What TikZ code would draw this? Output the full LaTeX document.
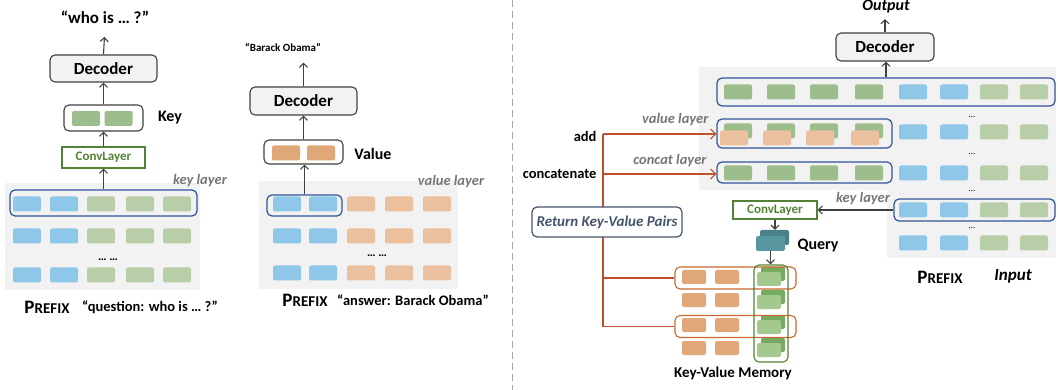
\documentclass[tikz,border=0pt]{standalone}
\usepackage{fontspec}
\setmainfont{Carlito}
\usetikzlibrary{arrows.meta}

\definecolor{cblue}{RGB}{142,199,232}
\definecolor{lgreen}{RGB}{183,206,168}
\definecolor{dgreen}{RGB}{157,190,140}
\definecolor{lorange}{RGB}{235,192,158}
\definecolor{morange}{RGB}{224,168,120}
\definecolor{bggray}{RGB}{242,242,242}
\definecolor{boxgray}{RGB}{242,242,242}
\definecolor{darkline}{RGB}{64,64,64}
\definecolor{rowblue}{RGB}{47,85,151}
\definecolor{convgreen}{RGB}{84,130,53}
\definecolor{layergray}{RGB}{118,118,118}
\definecolor{redline}{RGB}{192,80,45}
\definecolor{memorange}{RGB}{200,105,45}
\definecolor{slate}{RGB}{68,84,106}
\definecolor{qdark}{RGB}{74,128,136}
\definecolor{qlight}{RGB}{88,150,160}
\definecolor{mgreenb}{RGB}{118,170,96}
\definecolor{mgreenf}{RGB}{165,200,145}

\newcommand{\prefixword}{{\fontsize{19}{22}\selectfont P}{\fontsize{15}{18}\selectfont REFIX}}

\begin{document}
\begin{tikzpicture}[
    x=1pt, y=-1pt,
    cell/.style={rounded corners=2pt, minimum width=28pt, minimum height=15pt, inner sep=0pt},
    memcell/.style={rounded corners=2pt, minimum width=24pt, minimum height=14pt, inner sep=0pt},
    hl/.style={draw=rowblue, line width=1.2pt, rounded corners=5pt, inner sep=0pt},
    decoder/.style={draw=darkline, fill=boxgray, line width=1.1pt, rounded corners=5pt, inner sep=0pt, font=\bfseries\fontsize{17}{20}\selectfont},
    conv/.style={draw=convgreen, fill=white, line width=1.1pt, inner sep=0pt, text=convgreen, font=\bfseries\fontsize{13}{15}\selectfont},
    lbl/.style={font=\bfseries\fontsize{16}{19}\selectfont},
    layer/.style={font=\bfseries\itshape\fontsize{14.5}{17}\selectfont, text=layergray},
    ptr/.style={-{Straight Barb[length=4pt,width=8pt]}, line width=1.1pt, darkline},
    link/.style={line width=1.1pt, redline},
    redptr/.style={link, -{Straight Barb[length=5pt,width=10pt]}}
]
\useasboundingbox (0,0) rectangle (1058,390);

% Key panel
\fill[bggray] (5,183) rectangle (200,290);
\foreach \y [count=\r] in {204,236,275} {
  \foreach \x/\c [count=\k] in {27/cblue,64/cblue,101/lgreen,140/lgreen,177/lgreen}
    \node[cell, fill=\c] (a\r\k) at (\x,\y) {};
}
\node[hl, minimum width=187pt, minimum height=26pt] (keyrow) at (103.5,203) {};
\node[layer] (keylayera) at (200,181) {key layer};
\node[font=\bfseries\fontsize{12}{14}\selectfont] (dotsa) at (108,260) {…\ …};
\node[conv, minimum width=83pt, minimum height=21pt] (conva) at (103.5,157.5) {ConvLayer};
\node[draw=darkline, fill=white, line width=1.1pt, rounded corners=5pt, minimum width=79pt, minimum height=26pt] (keybox) at (103.5,118) {};
\node[cell, fill=dgreen] (ka) at (86,118.5) {};
\node[cell, fill=dgreen] (kb) at (118.5,118.5) {};
\node[lbl] (keylbl) at (170,118) {Key};
\node[decoder, minimum width=107pt, minimum height=27pt] (deca) at (103.5,68.5) {Decoder};
\node[font=\bfseries\fontsize{17}{20}\selectfont] (who) at (105,17) {“who is … ?”};
\node[inner sep=0pt] (pfa) at (47,307) {\bfseries\prefixword};
\node[font=\bfseries\fontsize{14.5}{17}\selectfont] (qtext) at (150,307) {“question: who is … ?”};

\draw[ptr] (keyrow.north) -- (conva.south);
\draw[ptr] (conva.north) -- (keybox.south);
\draw[ptr] (keybox.north) -- (deca.south);
\draw[ptr, shorten >=10pt] (deca.north) -- (who.south);

% Value panel
\fill[bggray] (259,181) rectangle (458,289);
\foreach \y [count=\r] in {204,236,273} {
  \foreach \x/\c [count=\k] in {287/cblue,323/cblue,361/lorange,399/lorange,437/lorange}
    \node[cell, fill=\c] (b\r\k) at (\x,\y) {};
}
\node[hl, minimum width=75pt, minimum height=21pt] (valrow) at (304.5,205.5) {};
\node[layer] (vallayera) at (451,182) {value layer};
\node[font=\bfseries\fontsize{12}{14}\selectfont] (dotsb) at (377,256) {…\ …};
\node[draw=darkline, fill=white, line width=1.1pt, rounded corners=5pt, minimum width=79pt, minimum height=24pt] (valbox) at (303.5,152) {};
\node[cell, fill=morange] (va) at (286,153) {};
\node[cell, fill=morange] (vb) at (321,153) {};
\node[lbl] (vallbl) at (373,154) {Value};
\node[decoder, minimum width=107pt, minimum height=28pt] (decb) at (303.5,101) {Decoder};
\node[font=\bfseries\fontsize{11}{13}\selectfont] (obama) at (283,47) {“Barack Obama”};
\node[inner sep=0pt] (pfb) at (305,300) {\bfseries\prefixword};
\node[font=\bfseries\fontsize{14.5}{17}\selectfont] (atext) at (413,300) {“answer: Barack Obama”};

\draw[ptr] (valrow.north) -- (valrow.north |- valbox.south);
\draw[ptr] (valbox.north) -- (valbox.north |- decb.south);
\draw[ptr, shorten >=8pt] (decb.north) -- (decb.north |- obama.south);

% Separator
\draw[gray!70, line width=1pt, dash pattern=on 7pt off 4pt] (512,0) -- (512,390);

% Prefix layers (right)
\fill[bggray] (699,67) rectangle (1056,190);
\fill[bggray] (887,190) rectangle (1056,258);
\foreach \x/\c [count=\k] in {738/dgreen,781/dgreen,824/dgreen,869/dgreen,913/cblue,954/cblue,994/lgreen,1034/lgreen} {
  \node[cell, fill=\c] (c1\k) at (\x,92) {};
  \node[cell, fill=\c] (c3\k) at (\x,173) {};
}
\foreach \x [count=\k] in {738,781,824,869} {
  \node[cell, fill=dgreen] (c2\k) at (\x,131) {};
  \node[cell, fill=lorange] (o2\k) at (\x-4,138) {};
}
\foreach \x/\c [count=\k from 5] in {913/cblue,954/cblue,994/lgreen,1034/lgreen} {
  \node[cell, fill=\c] (c2\k) at (\x,132) {};
  \node[cell, fill=\c] (c4\k) at (\x,210) {};
  \node[cell, fill=\c] (c5\k) at (\x,243) {};
}
\foreach \y [count=\i] in {117,154,191,228}
  \node[font=\fontsize{9}{10}\selectfont] (dr\i) at (972,\y) {…};
\node[hl, minimum width=338pt, minimum height=28pt] (rowa) at (886,92) {};
\node[hl, minimum width=175pt, minimum height=29pt] (rowb) at (804.5,133.5) {};
\node[hl, minimum width=175pt, minimum height=21pt] (rowc) at (804.5,172.5) {};
\node[hl, minimum width=161pt, minimum height=22pt] (rowd) at (974.5,210) {};
\node[decoder, minimum width=98pt, minimum height=28pt] (decc) at (885,47) {Decoder};
\node[font=\bfseries\itshape\fontsize{16}{19}\selectfont] (output) at (886,7) {Output};
\node[inner sep=0pt] (pfc) at (940,277) {\bfseries\prefixword};
\node[font=\bfseries\itshape\fontsize{17}{20}\selectfont] (input) at (1013,276) {Input};

\draw[ptr] (rowa.north) -- (rowa.north |- decc.south);
\draw[ptr, shorten >=2pt] (decc.north) -- (decc.north |- output.south);

% Query path
\node[layer] (keylayerc) at (863,199) {key layer};
\node[conv, minimum width=84pt, minimum height=18pt] (convc) at (775,210) {ConvLayer};
\node[rounded corners=2pt, fill=qdark, minimum width=29pt, minimum height=15pt, inner sep=0pt] (qback) at (774.5,237.5) {};
\node[rounded corners=2pt, fill=qlight, minimum width=29pt, minimum height=15pt, inner sep=0pt] (qfront) at (770.5,243.5) {};
\node[lbl] (query) at (818,246) {Query};

\draw[ptr] (rowd.west) -- (convc.east);
\draw[ptr] (convc.south) -- (convc.south |- qback.north);

% Key-Value Memory
\foreach \y [count=\r] in {277,300,325,348} {
  \node[memcell, fill=morange] (mka\r) at (694,\y) {};
  \node[memcell, fill=morange] (mkb\r) at (727,\y) {};
  \node[memcell, fill=mgreenb] (mgb\r) at (773,\y-3) {};
  \node[memcell, fill=mgreenf] (mgf\r) at (769,\y+2) {};
}
\node[draw=memorange, line width=1.1pt, rounded corners=5pt, minimum width=121pt, minimum height=22pt, inner sep=0pt] (mema) at (735.5,278) {};
\node[draw=memorange, line width=1.1pt, rounded corners=5pt, minimum width=121pt, minimum height=22pt, inner sep=0pt] (memc) at (735.5,326.5) {};
\node[draw=convgreen, line width=1.1pt, rounded corners=5pt, minimum width=34pt, minimum height=97pt, inner sep=0pt] (memcol) at (771,313.5) {};
\node[font=\bfseries\fontsize{15}{18}\selectfont] (memlbl) at (733,373) {Key-Value Memory};

\draw[ptr] (qfront.south) -- (qfront.south |- memcol.north);

% Return pairs
\coordinate (jadd) at (603,134);
\coordinate (jcat) at (603,174);
\coordinate (jma) at (603,278);
\coordinate (jmc) at (603,326.5);
\draw[link] (jadd) -- (jmc);
\draw[redptr] (jadd) -- (jadd -| rowb.west);
\draw[redptr] (jcat) -- (jcat -| rowc.west);
\draw[link] (jma) -- (jma -| mema.west);
\draw[link] (jmc) -- (jmc -| memc.west);
\node[draw=slate, fill=white, line width=1.2pt, rounded corners=5pt, minimum width=150pt, minimum height=30pt, inner sep=0pt, text=slate, font=\bfseries\itshape\fontsize{15}{18}\selectfont] (retkv) at (607,222) {Return Key-Value Pairs};
\node[lbl, font=\bfseries\fontsize{14.5}{17}\selectfont, anchor=east] (addlbl) at (600,136) {add};
\node[lbl, font=\bfseries\fontsize{14.5}{17}\selectfont, anchor=east] (catlbl) at (600,174) {concatenate};
\node[layer, anchor=east] (vallayerc) at (712,120) {value layer};
\node[layer, anchor=east] (catlayerc) at (710,161) {concat layer};
\end{tikzpicture}
\end{document}
